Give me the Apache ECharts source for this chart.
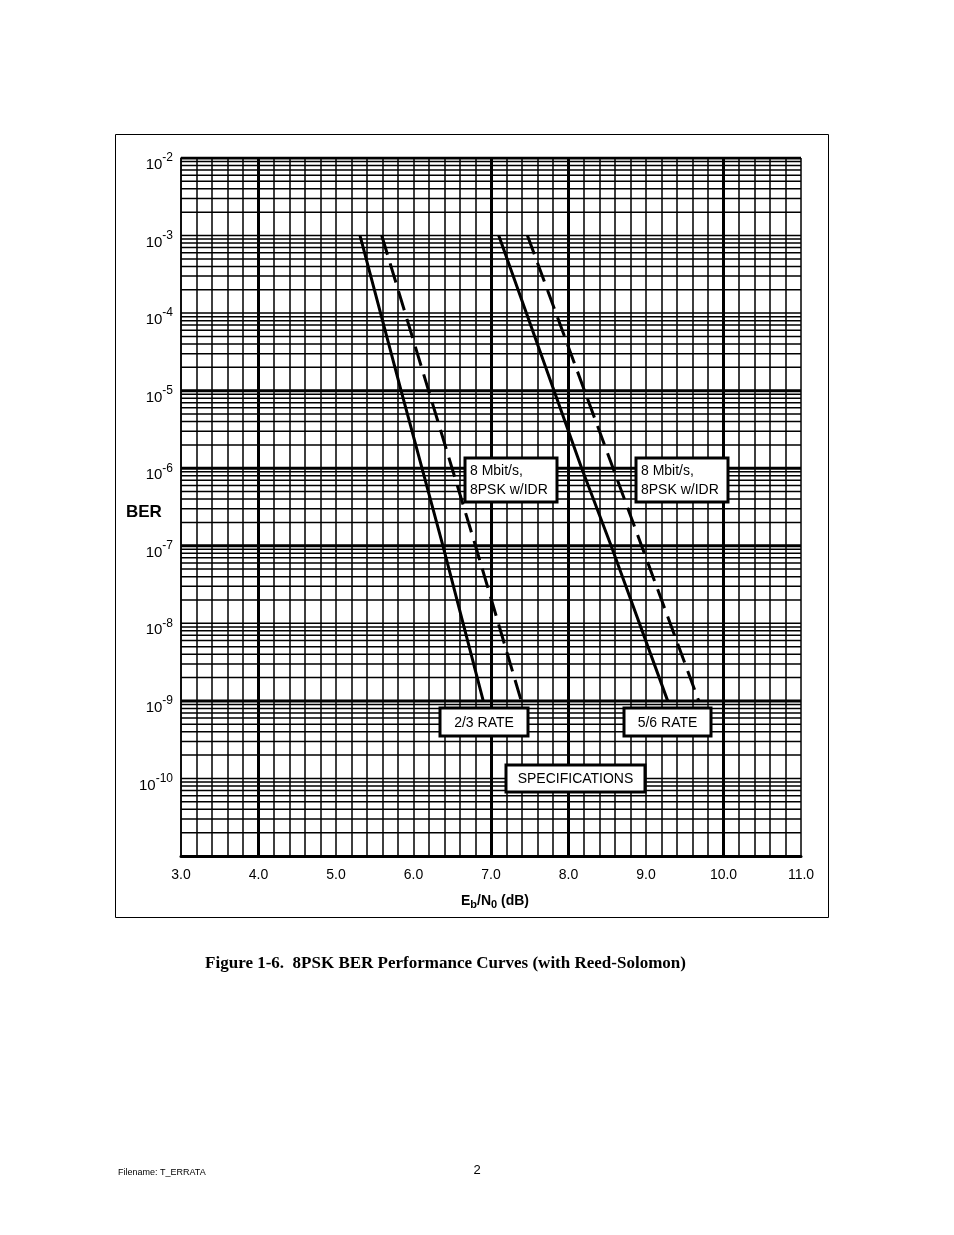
<!DOCTYPE html>
<html><head><meta charset="utf-8">
<script src="https://cdn.jsdelivr.net/npm/echarts@6/dist/echarts.min.js"></script>
<style>html,body{margin:0;padding:0;background:#fff}#c{width:954px;height:1235px}</style>
</head><body><div id="c"></div>
<script>
// ---- data ----
const xTickLabels = ['3.0','4.0','5.0','6.0','7.0','8.0','9.0','10.0','11.0'];
const yDecades = [-2,-3,-4,-5,-6,-7,-8,-9,-10];           // labelled decades
const thickX = [4,7,8,10];                                 // heavy vertical rulings
const thickYExp = [-2,-5,-6,-7,-9];                        // heavy horizontal rulings
const solid23Ber  = [1e-3, 1e-5, 1e-7, 1e-9];
const solid23Eb   = [5.31, 5.84, 6.38, 6.90];
const dashed23Ber = [1e-3, 1e-7, 1e-9];
const dashed23Eb  = [5.59, 6.80, 7.39];
const solid56Ber  = [1e-3, 1e-6, 1e-7, 1e-9];
const solid56Eb   = [7.10, 8.17, 8.55, 9.28];
const dashed56Ber = [1e-3, 1e-9];
const dashed56Eb  = [7.47, 9.68];

const FONT = 'Liberation Sans, Arial, sans-serif';
const zip = (xs, ys) => xs.map((x, i) => [x, ys[i]]);

// horizontal rulings (decades + 2..9 sub-lines) as broken line series
const hMinor = [], hHeavy = [];
for (let d = -11; d <= -2; d++) {
  for (let m = 1; m <= 9; m++) {
    if (d === -2 && m > 1) break;
    const v = m * Math.pow(10, d);
    const heavy = m === 1 && thickYExp.indexOf(d) >= 0;
    const arr = heavy ? hHeavy : hMinor;
    arr.push([3, v], [11, v], ['-', '-']);
  }
}
const vHeavy = thickX.map(x => ({xAxis: x, lineStyle: {width: 3}}));

const chart = echarts.init(document.getElementById('c'), null, {renderer: 'canvas'});
const boxes = [
  {x: 465, y: 458, w: 92, h: 44, text: '8 Mbit/s,\n8PSK w/IDR', align: 'left'},
  {x: 636, y: 458, w: 92, h: 44, text: '8 Mbit/s,\n8PSK w/IDR', align: 'left'},
  {x: 440, y: 708, w: 88, h: 28, text: '2/3 RATE', align: 'center'},
  {x: 624, y: 708, w: 87, h: 28, text: '5/6 RATE', align: 'center'},
  {x: 506, y: 765, w: 139, h: 27, text: 'SPECIFICATIONS', align: 'center'}
];
const graphic = [
  {type: 'rect', shape: {x: 115.5, y: 134.5, width: 713, height: 783}, style: {fill: 'none', stroke: '#000', lineWidth: 1}, z: 0, silent: true},
  {type: 'text', x: 126, y: 512, style: {text: 'BER', font: 'bold 17px ' + FONT, fill: '#000', verticalAlign: 'middle'}},
  {type: 'text', x: 445.5, y: 964, style: {text: 'Figure 1-6.  8PSK BER Performance Curves (with Reed-Solomon)', font: 'bold 17px Liberation Serif, Times New Roman, serif', fill: '#000', align: 'center', verticalAlign: 'middle'}},
  {type: 'text', x: 118, y: 1173, style: {text: 'Filename: T_ERRATA', font: '9px ' + FONT, fill: '#000', verticalAlign: 'middle'}},
  {type: 'text', x: 477, y: 1170, style: {text: '2', font: '13px ' + FONT, fill: '#000', align: 'center', verticalAlign: 'middle'}},
  {type: 'text', x: 495, y: 901, style: {
    text: '{n|E}{s|b}{n|/N}{s|0}{n| (dB)}', align: 'center', verticalAlign: 'middle',
    rich: {n: {font: 'bold 14px ' + FONT, fill: '#000'}, s: {font: 'bold 11px ' + FONT, fill: '#000', padding: [7, 0, 0, 0]}}
  }}
];
boxes.forEach(b => {
  graphic.push({type: 'rect', z: 100, shape: {x: b.x, y: b.y, width: b.w, height: b.h}, style: {fill: '#fff', stroke: '#000', lineWidth: 3}});
  graphic.push({type: 'text', z: 101,
    x: b.align === 'left' ? b.x + 5 : b.x + b.w / 2, y: b.y + b.h / 2 + 1,
    style: {text: b.text, font: '14px ' + FONT, fill: '#000', align: b.align, verticalAlign: 'middle', lineHeight: 19}});
});

const curveStyle = (dashed) => ({color: '#000', width: 3, type: dashed ? [20, 9] : 'solid'});
const rulingSeries = (data, w) => ({type: 'line', data: data, symbol: 'none', silent: true, z: 1,
  connectNulls: false, animation: false, lineStyle: {color: '#000', width: w}});
chart.setOption({
  animation: false,
  backgroundColor: '#fff',
  grid: {left: 181, right: 153, top: 158, bottom: 379, containLabel: false},
  xAxis: {
    type: 'value', min: 3, max: 11, interval: 1,
    axisLine: {show: true, onZero: false, lineStyle: {color: '#000', width: 3}},
    axisTick: {show: false},
    axisLabel: {color: '#000', fontFamily: FONT, fontSize: 14, margin: 12,
      formatter: v => xTickLabels[Math.round(v - 3)]},
    splitLine: {show: true, lineStyle: {color: '#000', width: 1.5}},
    minorTick: {show: false, splitNumber: 5},
    minorSplitLine: {show: true, lineStyle: {color: '#000', width: 1.5}}
  },
  yAxis: {
    type: 'log', logBase: 10, min: 1e-11, max: 1e-2, interval: 1,
    axisLine: {show: true, lineStyle: {color: '#000', width: 1.5}},
    axisTick: {show: false},
    splitLine: {show: false},
    axisLabel: {
      margin: 8, color: '#000', fontFamily: FONT,
      formatter: v => {
        const e = Math.round(Math.log10(v));
        return yDecades.indexOf(e) >= 0 ? '{b|10}{s|' + e + '}' : '';
      },
      rich: {
        b: {fontSize: 15, fontFamily: FONT, color: '#000', padding: [14, 0, 0, 0]},
        s: {fontSize: 12, fontFamily: FONT, color: '#000', padding: [0, 0, 0, 0]}
      }
    }
  },
  graphic: graphic,
  series: [
    rulingSeries(hMinor, 1.5),
    rulingSeries(hHeavy, 3),
    {type: 'line', data: [[3, 1e-11], [3, 1e-2]], symbol: 'none', silent: true, z: 1,
      lineStyle: {opacity: 0},
      markLine: {silent: true, symbol: 'none', label: {show: false}, animation: false,
        lineStyle: {color: '#000', type: 'solid', width: 3},
        data: vHeavy}},
    {type: 'line', data: zip(solid23Eb, solid23Ber), symbol: 'none', z: 5, lineStyle: curveStyle(false)},
    {type: 'line', data: zip(dashed23Eb, dashed23Ber), symbol: 'none', z: 5, lineStyle: curveStyle(true)},
    {type: 'line', data: zip(solid56Eb, solid56Ber), symbol: 'none', z: 5, lineStyle: curveStyle(false)},
    {type: 'line', data: zip(dashed56Eb, dashed56Ber), symbol: 'none', z: 5, lineStyle: curveStyle(true)}
  ]
});
</script></body></html>
